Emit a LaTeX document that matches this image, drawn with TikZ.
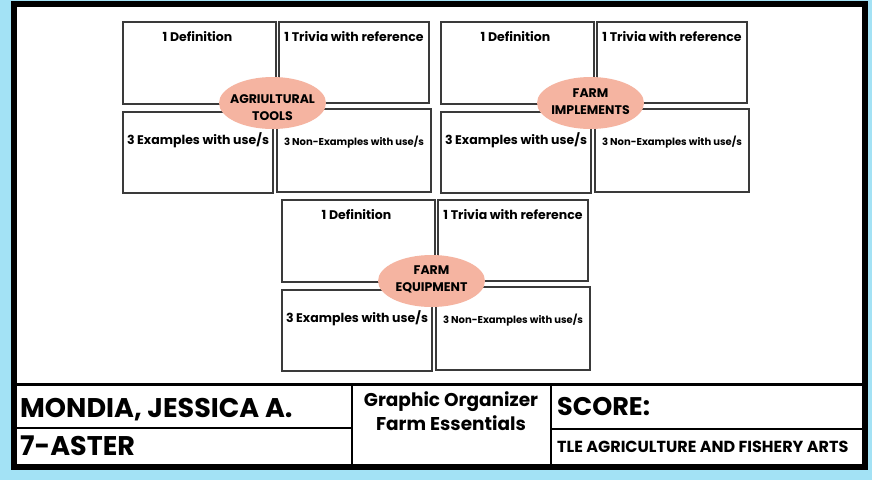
\documentclass[tikz,border=0pt]{standalone}
\usepackage{fontspec}
\setmainfont{Poppins}
\usetikzlibrary{shapes.geometric}
\definecolor{bgblue}{HTML}{A3E2F5}
\definecolor{salmon}{HTML}{F5B4A1}
\definecolor{boxline}{HTML}{3A3A3A}
\tikzset{
  gbox/.style={draw=boxline, line width=1.3pt, fill=white, inner sep=0pt, outer sep=0pt},
  glab/.style={font=\bfseries\fontsize{12.5}{12.5}\selectfont, inner sep=0pt, text=black},
  slab/.style={font=\bfseries\fontsize{10}{10}\selectfont, inner sep=0pt, text=black},
  topic/.style={ellipse, fill=salmon, inner sep=0pt, minimum width=107pt, minimum height=52pt},
  tlab/.style={align=center, inner sep=0pt, font=\bfseries\fontsize{12.5}{16.5}\selectfont},
  bigtxt/.style={font=\bfseries\fontsize{27}{27}\selectfont, inner sep=0pt, anchor=base west},
  midtxt/.style={font=\bfseries\fontsize{18.5}{18.5}\selectfont, inner sep=0pt, anchor=base},
  rule/.style={draw=black, line width=1.8pt},
}
\newcommand{\organizer}[6]{%
  \begin{scope}[shift={(#2,#3)}]
    \node[gbox, minimum width=153pt, minimum height=82pt,
      label={[glab, anchor=base, yshift=-19pt, xshift=-2pt]north:1 Definition}] (#1def) at (199.5,63) {};
    \node[gbox, minimum width=150pt, minimum height=81pt,
      label={[glab, anchor=base, yshift=-19pt]north:1 Trivia with reference}] (#1triv) at (354,62.5) {};
    \node[gbox, minimum width=150pt, minimum height=81pt,
      label={[glab, anchor=base, yshift=-32pt]north:3 Examples with use/s}] (#1ex) at (198,152.5) {};
    \node[gbox, minimum width=154pt, minimum height=83pt,
      label={[slab, anchor=base, yshift=-36pt]north:3 Non-Examples with use/s}] (#1nex) at (354,150.5) {};
    \node[topic, label={[tlab, yshift=#6]center:#4\\#5}] (#1topic) at (272.5,103) {};
  \end{scope}}
\begin{document}
\begin{tikzpicture}[x=1pt, y=-1pt]
  \useasboundingbox (0,0) rectangle (872,480);
  \fill[bgblue] (0,0) rectangle (872,480);
  \draw[line width=6pt, fill=white] (13.5,4) rectangle (865,467);

  \organizer{a}{0}{0}{AGRIULTURAL}{TOOLS}{-4.5pt}
  \organizer{b}{318}{0}{FARM}{IMPLEMENTS}{1.5pt}
  \organizer{c}{159}{178}{FARM}{EQUIPMENT}{1.5pt}

  % bottom table
  \coordinate (tl) at (13.5,384.5);
  \coordinate (tr) at (865,384.5);
  \draw[line width=3pt] (tl) -- (tr);
  \coordinate (v1t) at (352,384.5);
  \coordinate (v1b) at (352,467);
  \draw[rule] (v1t) -- (v1b);
  \coordinate (v2t) at (551,384.5);
  \coordinate (v2b) at (551,467);
  \draw[rule] (v2t) -- (v2b);
  \coordinate (h1l) at (13.5,428);
  \coordinate (h1r) at (352,428);
  \draw[rule] (h1l) -- (h1r);
  \coordinate (h2l) at (551,429);
  \coordinate (h2r) at (865,429);
  \draw[rule] (h2l) -- (h2r);

  \node[bigtxt] (name) at (20,417) {MONDIA, JESSICA A.};
  \node[bigtxt] (sect) at (20,455) {7-ASTER};
  \node[midtxt] (go1) at (451,406) {Graphic Organizer};
  \node[midtxt] (go2) at (451,430) {Farm Essentials};
  \node[bigtxt, font=\bfseries\fontsize{25.5}{25.5}\selectfont] (score) at (557,415) {SCORE:};
  \node[bigtxt, font=\bfseries\fontsize{16}{16}\selectfont] (subj) at (557,452) {TLE AGRICULTURE AND FISHERY ARTS};
\end{tikzpicture}
\end{document}
